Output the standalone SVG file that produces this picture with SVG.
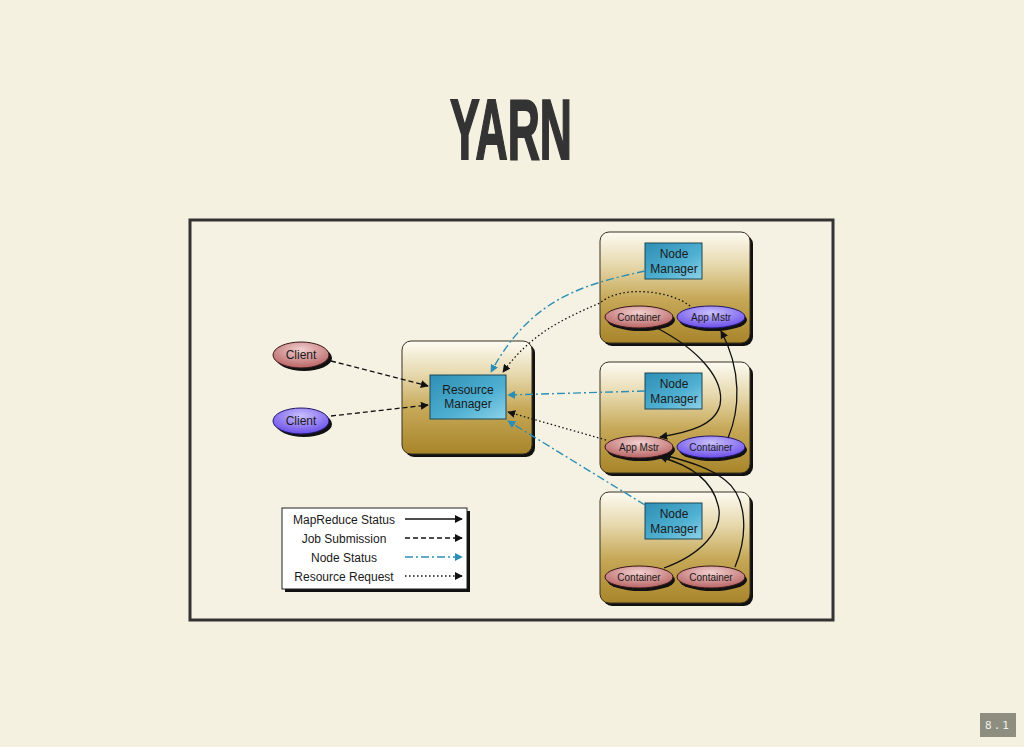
<svg xmlns="http://www.w3.org/2000/svg" width="1024" height="747" viewBox="0 0 1024 747">
<defs>
<style>
.lbl{font-family:"Liberation Sans",Arial,sans-serif;fill:#1a1a1a;text-anchor:middle}
.shadow{fill:#111}
.box{fill:url(#gold);stroke:#3a3020;stroke-width:1}
.nm{fill:url(#blue);stroke:#1a4656;stroke-width:1}
.red{fill:url(#redg);stroke:#3a1818;stroke-width:1}
.pur{fill:url(#purg);stroke:#20186a;stroke-width:1}
.blk{fill:none;stroke:#111;stroke-width:1.3}
.dash{stroke-dasharray:5 3}
.dot{stroke-dasharray:1.5 2.5}
.teal{fill:none;stroke:#2b8fb5;stroke-width:1.4;stroke-dasharray:8 3 2 3}
</style>
<linearGradient id="gold" x1="0" y1="0" x2="0" y2="1">
<stop offset="0" stop-color="#fdfbf2"/>
<stop offset="0.3" stop-color="#e6d8ac"/>
<stop offset="0.6" stop-color="#c6a858"/>
<stop offset="1" stop-color="#a8852a"/>
</linearGradient>
<linearGradient id="blue" x1="0" y1="0" x2="1" y2="1">
<stop offset="0" stop-color="#2f8fb4"/>
<stop offset="0.6" stop-color="#4fb0d2"/>
<stop offset="1" stop-color="#8fd2e8"/>
</linearGradient>
<radialGradient id="redg" cx="0.5" cy="0.3" r="0.7">
<stop offset="0" stop-color="#f2cfcf"/>
<stop offset="1" stop-color="#b86464"/>
</radialGradient>
<radialGradient id="purg" cx="0.5" cy="0.3" r="0.7">
<stop offset="0" stop-color="#c9bfff"/>
<stop offset="1" stop-color="#6a4de8"/>
</radialGradient>
<marker id="ab" viewBox="0 0 10 10" refX="9" refY="5" markerWidth="8" markerHeight="8" markerUnits="userSpaceOnUse" orient="auto">
<path d="M0,0 L10,5 L0,10 z" fill="#111"/>
</marker>
<marker id="at" viewBox="0 0 10 10" refX="9" refY="5" markerWidth="8" markerHeight="8" markerUnits="userSpaceOnUse" orient="auto">
<path d="M0,0 L10,5 L0,10 z" fill="#2b8fb5"/>
</marker>
</defs>
<rect width="1024" height="747" fill="#f5f1e1"/>
<text x="511" y="159" font-family="'Liberation Sans Narrow','Liberation Sans',sans-serif" font-weight="bold" font-size="86" fill="#333" stroke="#333" stroke-width="2" text-anchor="middle" textLength="122" lengthAdjust="spacingAndGlyphs">YARN</text>
<rect x="190" y="220" width="643" height="400" fill="#f6f2e3" stroke="#333" stroke-width="3"/>

<g id="client1">
<ellipse cx="304" cy="358" rx="28" ry="13" class="shadow"/>
<ellipse cx="301" cy="355" rx="28" ry="13" class="red"/>
<text x="301" y="359" class="lbl" font-size="12">Client</text>
</g>
<g id="client2">
<ellipse cx="304" cy="424" rx="28" ry="13" class="shadow"/>
<ellipse cx="301" cy="421" rx="28" ry="13" class="pur"/>
<text x="301" y="425" class="lbl" font-size="12">Client</text>
</g>

<g id="resourcemanager">
<rect x="405" y="344" width="130" height="113" rx="9" class="shadow"/>
<rect x="402" y="341" width="130" height="113" rx="9" class="box"/>
<rect x="430" y="375" width="76" height="44" class="nm"/>
<text x="468" y="394" class="lbl" font-size="12">Resource</text>
<text x="468" y="408" class="lbl" font-size="12">Manager</text>
</g>

<g id="node1">
<rect x="603" y="235" width="150" height="111" rx="9" class="shadow"/>
<rect x="600" y="232" width="150" height="111" rx="9" class="box"/>
<rect x="645" y="243" width="57" height="36" class="nm"/>
<text x="674" y="258" class="lbl" font-size="12">Node</text>
<text x="674" y="273" class="lbl" font-size="12">Manager</text>
<ellipse cx="641" cy="320" rx="34" ry="11" class="shadow"/>
<ellipse cx="639" cy="317" rx="34" ry="11" class="red"/>
<text x="639" y="321" class="lbl" font-size="10">Container</text>
<ellipse cx="713" cy="320" rx="34" ry="11" class="shadow"/>
<ellipse cx="711" cy="317" rx="34" ry="11" class="pur"/>
<text x="711" y="321" class="lbl" font-size="10">App Mstr</text>
</g>

<g id="node2">
<rect x="603" y="365" width="150" height="111" rx="9" class="shadow"/>
<rect x="600" y="362" width="150" height="111" rx="9" class="box"/>
<rect x="645" y="373" width="57" height="36" class="nm"/>
<text x="674" y="388" class="lbl" font-size="12">Node</text>
<text x="674" y="403" class="lbl" font-size="12">Manager</text>
<ellipse cx="641" cy="450" rx="34" ry="11" class="shadow"/>
<ellipse cx="639" cy="447" rx="34" ry="11" class="red"/>
<text x="639" y="451" class="lbl" font-size="10">App Mstr</text>
<ellipse cx="713" cy="450" rx="34" ry="11" class="shadow"/>
<ellipse cx="711" cy="447" rx="34" ry="11" class="pur"/>
<text x="711" y="451" class="lbl" font-size="10">Container</text>
</g>

<g id="node3">
<rect x="603" y="495" width="150" height="111" rx="9" class="shadow"/>
<rect x="600" y="492" width="150" height="111" rx="9" class="box"/>
<rect x="645" y="503" width="57" height="36" class="nm"/>
<text x="674" y="518" class="lbl" font-size="12">Node</text>
<text x="674" y="533" class="lbl" font-size="12">Manager</text>
<ellipse cx="641" cy="580" rx="34" ry="11" class="shadow"/>
<ellipse cx="639" cy="577" rx="34" ry="11" class="red"/>
<text x="639" y="581" class="lbl" font-size="10">Container</text>
<ellipse cx="713" cy="580" rx="34" ry="11" class="shadow"/>
<ellipse cx="711" cy="577" rx="34" ry="11" class="red"/>
<text x="711" y="581" class="lbl" font-size="10">Container</text>
</g>

<g id="legend">
<rect x="285" y="511" width="185" height="81" class="shadow"/>
<rect x="282" y="508" width="185" height="81" fill="#fff" stroke="#222" stroke-width="1"/>
<text x="344" y="524" class="lbl" font-size="12">MapReduce Status</text>
<text x="344" y="543" class="lbl" font-size="12">Job Submission</text>
<text x="344" y="562" class="lbl" font-size="12">Node Status</text>
<text x="344" y="581" class="lbl" font-size="12">Resource Request</text>
<path d="M405,519 H462" class="blk" marker-end="url(#ab)"/>
<path d="M405,538 H462" class="blk dash" marker-end="url(#ab)"/>
<path d="M405,557 H462" class="teal" marker-end="url(#at)"/>
<path d="M405,576 H462" class="blk dot" marker-end="url(#ab)"/>
</g>

<g id="connectors">
<path d="M331,361 L428,386" class="blk dash" marker-end="url(#ab)"/>
<path d="M331,416 L428,405" class="blk dash" marker-end="url(#ab)"/>
<path d="M645,271 C580,285 530,300 491,372" class="teal" marker-end="url(#at)"/>
<path d="M690,306 C670,290 620,285 600,303 C560,320 530,335 503,372" class="blk dot" marker-end="url(#ab)"/>
<path d="M645,391 L508,395" class="teal" marker-end="url(#at)"/>
<path d="M606,440 L508,412" class="blk dot" marker-end="url(#ab)"/>
<path d="M645,505 L508,421" class="teal" marker-end="url(#at)"/>
<path d="M655,327 C700,350 725,380 720,405 C715,425 690,432 660,437" class="blk" marker-end="url(#ab)"/>
<path d="M728,438 C740,410 742,370 721,331" class="blk" marker-end="url(#ab)"/>
<path d="M664,568 C700,555 725,530 718,505 C712,480 690,465 660,457" class="blk" marker-end="url(#ab)"/>
<path d="M735,567 C750,530 745,495 725,480 C710,468 690,462 664,455" class="blk" marker-end="url(#ab)"/>
</g>

<g id="slidenumber">
<rect x="980" y="713" width="36" height="24" fill="#8e8e80"/>
<text x="998" y="729" font-family="'DejaVu Sans Mono','Liberation Mono',monospace" font-size="11" fill="#f0f0f0" text-anchor="middle" letter-spacing="2">8.1</text>
</g>
</svg>
